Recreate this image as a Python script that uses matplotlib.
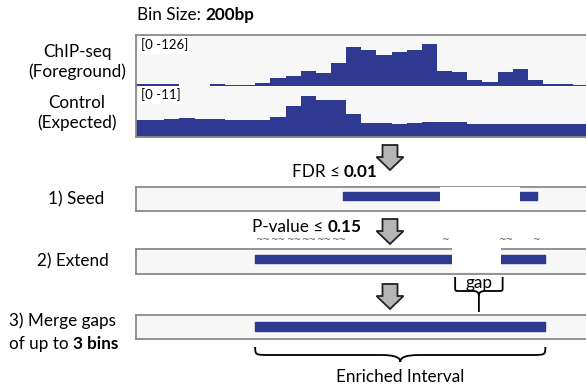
import matplotlib.pyplot as plt
from matplotlib.path import Path
from matplotlib.patches import PathPatch, Polygon, Rectangle
import numpy as np

plt.rcParams['font.family'] = ['Lato', 'DejaVu Sans']

W, H = 586, 391
X0, BW = 134, 15.15      # pixel of bin 0 and pixels per 200bp bin
BLUE = '#2e3a92'
FS = 12.3

# read depth per 200bp bin
chip = [5, 5, 5, 1, 1, 5, 3, 3, 8, 21, 24, 37, 31, 56, 97, 88, 76, 84, 88, 103,
        37, 34, 14, 11, 34, 43, 14, 5, 5, 3]
control = [3.6, 3.6, 3.9, 4.1, 3.8, 3.8, 3.6, 3.6, 3.6, 4.4, 6.6, 8.8, 8.0, 8.0, 4.9,
           3.0, 3.0, 2.7, 3.0, 3.3, 3.3, 3.3, 2.7, 2.7, 2.7, 2.7, 2.7, 2.7, 2.7, 2.7]
chip_max, control_max = 126, 11

# intervals (start bin, end bin) after each step
seed = [(13.8, 20.2), (25.5, 26.6)]
extend = [(8.0, 21.0), (24.2, 27.15)]
merged = [(8.0, 27.15)]

# bins passing the relaxed p-value cutoff, and how many ~ marks each gets
pval_bins = [8, 9, 10, 11, 12, 13, 20, 24, 26]
pval_marks = [2, 2, 2, 2, 2, 2, 1, 2, 1]


def px_rect(x0, y0, x1, y1):
    return [x0 / W, 1 - y1 / H, (x1 - x0) / W, (y1 - y0) / H]


def bx(b):
    return X0 + BW * b


fig = plt.figure(figsize=(W / 100, H / 100), dpi=100)


def track(y0, y1, spines):
    ax = fig.add_axes(px_rect(136, y0, 592, y1))
    ax.set_xlim((136 - X0) / BW, (592 - X0) / BW)
    ax.set_facecolor('#f7f7f7')
    ax.set_xticks([])
    ax.set_yticks([])
    for side, sp in ax.spines.items():
        sp.set_visible(side in spines)
        sp.set_color('#8a8a8a')
        sp.set_linewidth(1.3)
    return ax


edges = np.arange(len(chip) + 1)
ax_chip = track(35, 86, ('top', 'left'))
ax_chip.stairs(chip, edges, fill=True, color=BLUE)
ax_chip.set_ylim(0, chip_max)

ax_ctrl = track(86, 137, ('bottom', 'left'))
ax_ctrl.stairs(control, edges, fill=True, color=BLUE)
ax_ctrl.set_ylim(0, control_max)


def interval_track(y0, y1, ivals, bar, gap_top):
    ax = track(y0, y1, ('top', 'bottom', 'left'))
    ax.set_ylim(0, 1)
    ax.broken_barh([(s, e - s) for s, e in ivals], bar, color=BLUE)
    # blank out the space between intervals
    for (s0, e0), (s1, e1) in zip(ivals[:-1], ivals[1:]):
        ax.add_patch(Rectangle((e0, 0.08), s1 - e0, gap_top - 0.08, fc='white',
                               ec='none', zorder=3, clip_on=False))
    return ax


ax_seed = interval_track(187, 210.5, seed, (0.44, 0.34), 1.0)
ax_ext = interval_track(249.3, 274.3, extend, (0.46, 0.31), 1.07)
ax_mrg = interval_track(314.5, 338.5, merged, (0.33, 0.36), 1.0)

for b, n in zip(pval_bins, pval_marks):
    ax_ext.text(b + 0.5, 1.4, '~' * n, transform=ax_ext.get_xaxis_transform(),
                ha='center', va='center', fontsize=6.5, color='#555555',
                family='DejaVu Sans', clip_on=False)

# annotation layer in pixel coordinates
ax = fig.add_axes([0, 0, 1, 1])
ax.set_xlim(0, W)
ax.set_ylim(H, 0)
ax.axis('off')


def mixed(x, y, plain, bold, ha='left'):
    t = ax.text(x, y, plain, ha=ha, va='center', fontsize=FS)
    ax.annotate(bold, xy=(1, 0), xycoords=t, xytext=(3, 0), textcoords='offset points',
                ha='left', va='bottom', fontsize=FS, fontweight='bold')


mixed(137, 15, 'Bin Size:', '200bp')
mixed(292, 172, 'FDR \u2264', '0.01')
mixed(252, 227, 'P-value \u2264', '0.15')

ax.text(77, 62, 'ChIP-seq\n(Foreground)', ha='center', va='center', fontsize=FS, linespacing=1.25)
ax.text(77, 113, 'Control\n(Expected)', ha='center', va='center', fontsize=FS, linespacing=1.25)
ax.text(76, 199, '1) Seed', ha='center', va='center', fontsize=FS)
ax.text(73, 261, '2) Extend', ha='center', va='center', fontsize=FS)
ax.text(9, 321, '3) Merge gaps', ha='left', va='center', fontsize=FS)
mixed(9, 344, 'of up to', '3 bins')

for y, lab in [(45, '[0 -126]'), (95, '[0 -11]')]:
    ax.text(141, y, lab, ha='left', va='center', fontsize=9.5,
            bbox=dict(fc='white', ec='none', pad=1.5))


def down_arrow(xc, ytop, w=27, h=25, stem=15, head=13):
    yh = ytop + h - head
    pts = [(xc - stem / 2, ytop), (xc + stem / 2, ytop), (xc + stem / 2, yh),
           (xc + w / 2, yh), (xc, ytop + h), (xc - w / 2, yh), (xc - stem / 2, yh)]
    ax.add_patch(Polygon(pts, closed=True, fc='#b5b5b5', ec='#222222', lw=1.3,
                         joinstyle='miter'))


down_arrow(390, 145)
down_arrow(390, 219)
down_arrow(390, 284)


def brace(x0, x1, ytop, ybot, ytip, rx, ry, rm, d):
    xm = (x0 + x1) / 2
    verts = [(x0, ytop), (x0, ybot - ry), (x0, ybot), (x0, ybot), (x0 + rx, ybot),
             (xm - rm, ybot), (xm - rm * 0.2, ybot), (xm, ybot + d * 0.4), (xm, ybot + d),
             (xm, ytip),
             (xm, ybot + d), (xm, ybot + d * 0.4), (xm + rm * 0.2, ybot), (xm + rm, ybot),
             (x1 - rx, ybot), (x1, ybot), (x1, ybot), (x1, ybot - ry), (x1, ytop)]
    codes = [Path.MOVETO, Path.LINETO, Path.CURVE4, Path.CURVE4, Path.CURVE4,
             Path.LINETO, Path.CURVE4, Path.CURVE4, Path.CURVE4,
             Path.LINETO,
             Path.MOVETO, Path.CURVE4, Path.CURVE4, Path.CURVE4,
             Path.LINETO, Path.CURVE4, Path.CURVE4, Path.CURVE4, Path.LINETO]
    ax.add_patch(PathPatch(Path(verts, codes), fc='none', ec='black', lw=1.3,
                           capstyle='butt'))


# gap between the two extended intervals
g0, g1 = extend[0][1], extend[1][0]
brace(bx(g0) + 3, bx(g1) + 2, 277, 291, 312, 4, 4, 6, 5)
ax.text((bx(g0) + bx(g1)) / 2 + 2.5, 283, 'gap', ha='center', va='center', fontsize=FS)

# final enriched interval
m0, m1 = merged[0]
brace(bx(m0), bx(m1), 347, 355, 362, 15, 8, 20, 7)
ax.text((bx(m0) + bx(m1)) / 2, 377, 'Enriched Interval', ha='center', va='center', fontsize=FS)

plt.savefig('out.png', dpi=100)
